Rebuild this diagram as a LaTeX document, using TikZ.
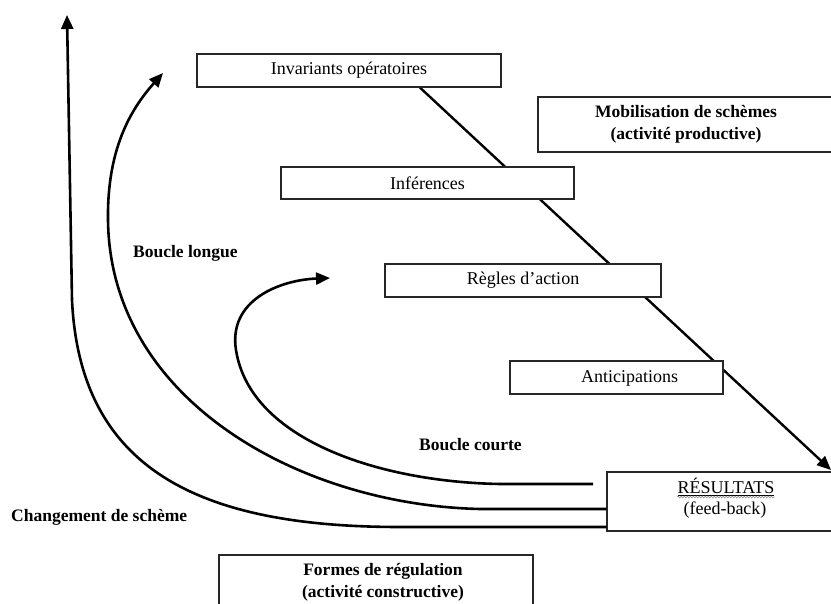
\documentclass[tikz,border=0pt]{standalone}
\usepackage{fontspec}
\setmainfont{Liberation Serif}
\usetikzlibrary{arrows.meta,backgrounds,decorations.pathmorphing}
\begin{document}
\begin{tikzpicture}[x=1pt,y=-1pt,
  box/.style={draw=black!85,line width=1.3pt,fill=white,inner sep=0pt,
    font=\fontsize{18}{22}\selectfont},
  txt/.style={font=\fontsize{18}{22}\selectfont,inner sep=0pt},
  boldlabel/.style={font=\fontsize{17.5}{22}\selectfont\bfseries,inner sep=0pt,align=center},
  loop/.style={line width=2.6pt,-{Triangle[length=14pt,width=12pt]}}]
\useasboundingbox (0,0) rectangle (831,604);
% boxes
\node[box,minimum width=304pt,minimum height=33pt] (inv) at (349,70.5) {Invariants opératoires};
\node[box,minimum width=296pt,minimum height=55pt] (mob) at (686,124.5) {};
\node[boldlabel] (mobt) at (686,124.5) {Mobilisation de schèmes\\(activité productive)};
\node[box,minimum width=293pt,minimum height=32pt] (inf) at (427.5,183) {Inférences};
\node[box,minimum width=276pt,minimum height=33pt] (reg) at (523,280.5) {Règles d’action};
\node[box,minimum width=213pt,minimum height=33pt] (ant) at (616.5,377.5) {};
\node[txt] (antt) at (629.5,378) {Anticipations};
\node[box,minimum width=236pt,minimum height=59pt] (res) at (725,501.5) {};
\node[txt] (rest) at (726,487) {\underline{RÉSULTATS}};
\node[txt] (resb) at (725,510) {(feed-back)};
\node[box,minimum width=314pt,minimum height=62pt] (form) at (376,586) {};
\node[boldlabel] (formt) at (383,582) {Formes de régulation\\(activité constructive)};
% labels
\node[boldlabel,anchor=west] (bl) at (133,253) {Boucle longue};
\node[boldlabel,anchor=west] (bc) at (419,445) {Boucle courte};
\node[boldlabel,anchor=west] (cs) at (11,517) {Changement de schème};
% spell-check squiggle
\draw[black!45,line width=0.6pt,decorate,decoration={snake,amplitude=0.9pt,segment length=3pt}]
  ([yshift=-1pt]rest.south west) -- ([yshift=-1pt]rest.south east);
% free ends
\coordinate (tipr) at (831,470);
\coordinate (tipl) at (67,15);
\coordinate (tipm) at (163,73);
\coordinate (tipc) at (330,278);
\coordinate (endc) at (593,484);
\begin{pgfonlayer}{background}
\draw[line width=2.4pt,-{Triangle[length=14pt,width=12pt]}] ([xshift=71pt]inv.south) -- (tipr);
\end{pgfonlayer}
% loops
\draw[loop] ([yshift=-25.5pt]res.west) -- (400,527)
  .. controls (200,527) and (80,470) .. (72,300) -- (tipl);
\draw[loop] ([yshift=-7.5pt]res.west) -- (480,509)
  .. controls (300,505) and (110,400) .. (108,220)
  .. controls (107,150) and (130,110) .. (tipm);
\draw[loop] (endc) -- (500,484)
  .. controls (380,482) and (250,440) .. (236,350)
  .. controls (228,300) and (280,280) .. (tipc);
\end{tikzpicture}
\end{document}
